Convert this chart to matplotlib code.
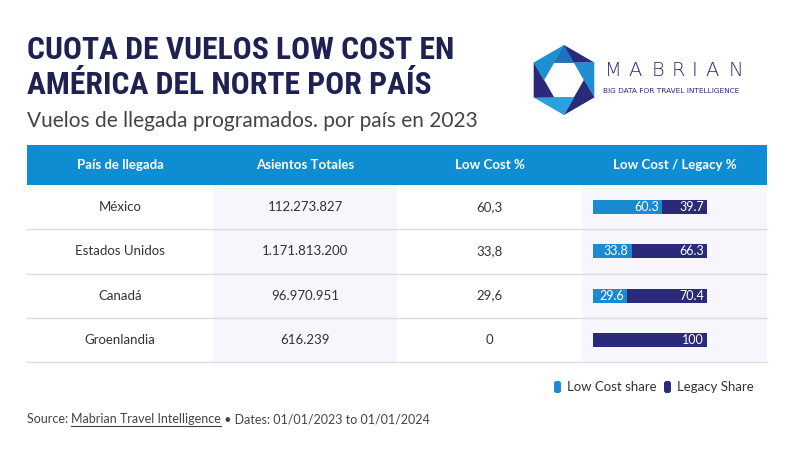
import matplotlib.pyplot as plt
from matplotlib import font_manager
from matplotlib.patches import Rectangle, Polygon, FancyBboxPatch
import numpy as np

# donnees du tableau
paises = ["México", "Estados Unidos", "Canadá", "Groenlandia"]
asientos = ["112.273.827", "1.171.813.200", "96.970.951", "616.239"]
low_cost_txt = ["60,3", "33,8", "29,6", "0"]
low_cost = [60.3, 33.8, 29.6, 0]
legacy = [39.7, 66.3, 70.4, 100]
columnas = ["País de llegada", "Asientos Totales", "Low Cost %", "Low Cost / Legacy %"]

AZUL = "#0f8dd3"
AZUL_LC = "#1a8ad2"
NAVY = "#2b2a7a"
TITULO = "#1f2152"


def choisir_police(noms):
    # on garde une famille qui a un normal et un gras
    for n in noms:
        poids = [f.weight for f in font_manager.fontManager.ttflist
                 if f.name == n and f.style == "normal"]
        poids = [p if isinstance(p, int) else 400 for p in poids]
        if 400 in poids and any(p >= 600 for p in poids):
            return n
    return "DejaVu Sans"


police_titre = choisir_police(["Roboto Condensed", "Liberation Sans Narrow", "DejaVu Sans"])
police = choisir_police(["Source Sans Pro", "Source Sans 3", "Lato", "Open Sans"])

fig = plt.figure(figsize=(7.93, 4.55), dpi=100)
ax = fig.add_axes([0, 0, 1, 1])
ax.set_xlim(0, 793)
ax.set_ylim(455, 0)
ax.axis("off")

# titre
ax.text(27, 59, "CUOTA DE VUELOS LOW COST EN", fontsize=22.8, fontweight="bold",
        color=TITULO, family=police_titre, va="baseline")
ax.text(27, 94, "AMÉRICA DEL NORTE POR PAÍS", fontsize=22.8, fontweight="bold",
        color=TITULO, family=police_titre, va="baseline")
ax.text(27, 127, "Vuelos de llegada programados. por país en 2023", fontsize=15,
        color="#444444", family=police, va="baseline")

# logo hexagone
cx, cy = 564, 80
r_ext, r_int = 35, 20
ang_ext = np.deg2rad(np.arange(6) * 60 - 90)
ang_int = np.deg2rad(np.arange(6) * 60 - 60)
ext = [(cx + r_ext * np.cos(a), cy + r_ext * np.sin(a)) for a in ang_ext]
inte = [(cx + r_int * np.cos(a), cy + r_int * np.sin(a)) for a in ang_int]
couleurs = [NAVY, "#1f8fd4", NAVY, "#2aa0dc", NAVY, "#1f8fd4"]
for i in range(6):
    pts = [ext[i], ext[(i + 1) % 6], inte[i], inte[(i - 1) % 6]]
    ax.add_patch(Polygon(pts, closed=True, color=couleurs[i], lw=0))
    tri = [ext[(i + 1) % 6], inte[(i + 1) % 6], inte[i]]
    ax.add_patch(Polygon(tri, closed=True, color="#1c74be", lw=0))
centres = [613, 635, 658, 678, 695, 712, 736]
for xl, lettre in zip(centres, "MABRIAN"):
    ax.text(xl, 76, lettre, fontsize=14, color=NAVY, family="DejaVu Sans",
            va="baseline", ha="center", fontweight="light")
ax.text(603, 93, "BIG DATA FOR TRAVEL INTELLIGENCE", fontsize=5.3, color=NAVY,
        family="DejaVu Sans", va="baseline")

# entete
x_bords = [27, 213, 397, 582, 767]
ax.add_patch(Rectangle((27, 145), 740, 40, color=AZUL, lw=0))
for i, c in enumerate(columnas):
    xc = (x_bords[i] + x_bords[i + 1]) / 2
    ax.text(xc, 165, c, fontsize=9.5, fontweight="bold", color="white",
            ha="center", va="center", family=police)

# colonnes grisees
haut_ligne = 44.25
y0 = 185
for i in [1, 3]:
    ax.add_patch(Rectangle((x_bords[i], y0), x_bords[i + 1] - x_bords[i],
                           haut_ligne * 4, color="#f6f6fc", lw=0))

for j in range(4):
    yc = y0 + haut_ligne * (j + 0.5)
    valeurs = [paises[j], asientos[j], low_cost_txt[j]]
    for i, v in enumerate(valeurs):
        xc = (x_bords[i] + x_bords[i + 1]) / 2
        ax.text(xc, yc, v, fontsize=9.5, color="#333333", ha="center",
                va="center", family=police)
    ax.plot([27, 767], [y0 + haut_ligne * (j + 1)] * 2, color="#dddddd", lw=1)

# barres empilees
ax2 = fig.add_axes([593 / 793, 1 - (y0 + 4 * haut_ligne) / 455, 114 / 793,
                    4 * haut_ligne / 455])
ypos = np.arange(len(paises))
ax2.barh(ypos, low_cost, height=0.32, color=AZUL_LC)
ax2.barh(ypos, legacy, left=low_cost, height=0.32, color=NAVY)
ax2.set_xlim(0, 100)
ax2.set_ylim(3.5, -0.5)
ax2.axis("off")
for j in range(len(paises)):
    if low_cost[j] > 0:
        ax2.text(low_cost[j] - 2.5, j, f"{low_cost[j]:.1f}", color="white",
                 fontsize=9, ha="right", va="center", family=police)
    lab = f"{legacy[j]:.1f}" if legacy[j] < 100 else "100"
    ax2.text(low_cost[j] + legacy[j] - 2.5, j, lab, color="white",
             fontsize=9, ha="right", va="center", family=police)

# legende
ax.add_patch(FancyBboxPatch((554, 381), 7, 12, boxstyle="round,pad=0,rounding_size=2.5",
                            color=AZUL_LC, lw=0))
ax.text(567, 387, "Low Cost share", fontsize=9.5, color="#333333", va="center",
        family=police)
ax.add_patch(FancyBboxPatch((664, 381), 7, 12, boxstyle="round,pad=0,rounding_size=2.5",
                            color=NAVY, lw=0))
ax.text(677, 387, "Legacy Share", fontsize=9.5, color="#333333", va="center",
        family=police)

# source
t1 = ax.text(27, 419, "Source: ", fontsize=9, color="#444444", va="center", family=police)
fig.canvas.draw()
bb = t1.get_window_extent().transformed(ax.transData.inverted())
t2 = ax.text(bb.x1, 419, "Mabrian Travel Intelligence", fontsize=9, color="#444444",
             va="center", family=police)
bb2 = t2.get_window_extent().transformed(ax.transData.inverted())
ax.plot([bb2.x0, bb2.x1], [425.5, 425.5], color="#444444", lw=0.8)
ax.text(bb2.x1, 419, " • Dates: 01/01/2023 to 01/01/2024", fontsize=9, color="#444444",
        va="center", family=police)

fig.savefig("out.png", dpi=100)
